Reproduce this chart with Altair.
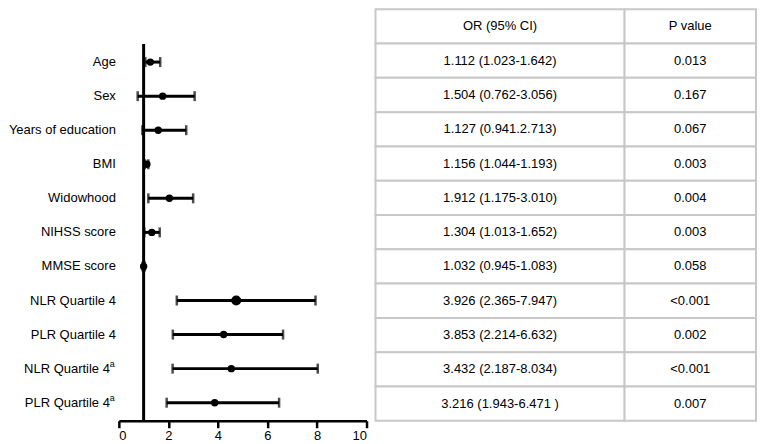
import altair as alt
import pandas as pd

# ---- data ----
labels = ["Age", "Sex", "Years of education", "BMI", "Widowhood", "NIHSS score",
          "MMSE score", "NLR Quartile 4", "PLR Quartile 4", "NLR Quartile 4", "PLR Quartile 4"]
superscript = ["", "", "", "", "", "", "", "", "", "a", "a"]
point_est = [1.27, 1.77, 1.59, 1.13, 2.04, 1.33, 1.00, 4.74, 4.23, 4.54, 3.87]
ci_low = [1.07, 0.76, 0.95, 1.05, 1.19, 1.03, 0.96, 2.34, 2.18, 2.17, 1.93]
ci_high = [1.67, 3.06, 2.72, 1.19, 3.00, 1.65, 1.05, 7.94, 6.63, 8.03, 6.47]
or_text = ["1.112 (1.023-1.642)", "1.504 (0.762-3.056)", "1.127 (0.941.2.713)",
           "1.156 (1.044-1.193)", "1.912 (1.175-3.010)", "1.304 (1.013-1.652)",
           "1.032 (0.945-1.083)", "3.926 (2.365-7.947)", "3.853 (2.214-6.632)",
           "3.432 (2.187-8.034)", "3.216 (1.943-6.471 )"]
p_text = ["0.013", "0.167", "0.067", "0.003", "0.004", "0.003", "0.058",
          "<0.001", "0.002", "<0.001", "0.007"]
header = ["OR (95% CI)", "P value"]
x_ticks = [0, 2, 4, 6, 8, 10]
ref_value = 1

FONT = "Liberation Sans"
n = len(labels)

forest = pd.DataFrame({
    "row": list(range(n)),
    "label": labels,
    "sup": superscript,
    "est": point_est,
    "lo": ci_low,
    "hi": ci_high,
})

y_top, y_bot = -1.55, 10.53
yscale = alt.Scale(domain=[y_top, y_bot], reverse=True, nice=False, zero=False)
xscale = alt.Scale(domain=[0, 10], nice=False)

base = alt.Chart(forest)

ref_line = alt.Chart(pd.DataFrame({"x": [ref_value], "y1": [-0.53], "y2": [y_bot]})).mark_rule(
    color="black", strokeWidth=3
).encode(
    x=alt.X("x:Q", scale=xscale, axis=alt.Axis(values=x_ticks, title=None, grid=False,
                                              domainColor="black", domainWidth=2.5,
                                              tickColor="black", tickWidth=2.5, tickSize=7,
                                              labelFontSize=13, labelFont=FONT,
                                              labelColor="black", labelPadding=2)),
    y=alt.Y("y1:Q", scale=yscale, axis=None),
    y2="y2:Q",
)

bars = base.mark_rule(color="black", strokeWidth=3).encode(
    x=alt.X("lo:Q", scale=xscale), x2="hi:Q",
    y=alt.Y("row:Q", scale=yscale, axis=None),
)
cap_lo = base.mark_tick(color="black", orient="vertical", size=10, thickness=2.5).encode(
    x=alt.X("lo:Q", scale=xscale), y=alt.Y("row:Q", scale=yscale, axis=None))
cap_hi = base.mark_tick(color="black", orient="vertical", size=10, thickness=2.5).encode(
    x=alt.X("hi:Q", scale=xscale), y=alt.Y("row:Q", scale=yscale, axis=None))
points = base.mark_circle(color="black", opacity=1).encode(
    x=alt.X("est:Q", scale=xscale),
    y=alt.Y("row:Q", scale=yscale, axis=None),
    size=alt.condition(alt.datum.row == 7, alt.value(100), alt.value(55)),
)

lab_plain = base.transform_filter(alt.datum.sup == "").mark_text(
    align="right", baseline="middle", dx=-3, fontSize=13, font=FONT, color="black"
).encode(x=alt.value(0), y=alt.Y("row:Q", scale=yscale, axis=None), text="label:N")
lab_sup_main = base.transform_filter(alt.datum.sup != "").mark_text(
    align="right", baseline="middle", dx=-9, fontSize=13, font=FONT, color="black"
).encode(x=alt.value(0), y=alt.Y("row:Q", scale=yscale, axis=None), text="label:N")
lab_sup = base.transform_filter(alt.datum.sup != "").mark_text(
    align="left", baseline="middle", dx=-9, dy=-5, fontSize=9, font=FONT, color="black"
).encode(x=alt.value(0), y=alt.Y("row:Q", scale=yscale, axis=None), text="sup:N")

forest_chart = alt.layer(ref_line, bars, cap_lo, cap_hi, points,
                         lab_plain, lab_sup_main, lab_sup).properties(width=248, height=412)

# ---- table ----
col_edges = [0, 0.6546, 1.0]
cells = []
for r in range(-1, n):
    texts = header if r == -1 else [or_text[r], p_text[r]]
    for c in range(2):
        cells.append({"row": r, "r0": r - 0.5, "r1": r + 0.5,
                      "c0": col_edges[c], "c1": col_edges[c + 1],
                      "cm": (col_edges[c] + col_edges[c + 1]) / 2, "txt": texts[c]})
tdf = pd.DataFrame(cells)
tx = alt.Scale(domain=[0, 1], nice=False)
ty = alt.Scale(domain=[-1.5, n - 0.5], reverse=True, nice=False, zero=False)
tbase = alt.Chart(tdf)
trect = tbase.mark_rect(fill="white", stroke="#c8c8c8", strokeWidth=2).encode(
    x=alt.X("c0:Q", scale=tx, axis=None), x2="c1:Q",
    y=alt.Y("r0:Q", scale=ty, axis=None), y2="r1:Q")
ttext = tbase.mark_text(fontSize=13, font=FONT, color="black", baseline="middle").encode(
    x=alt.X("cm:Q", scale=tx, axis=None), y=alt.Y("row:Q", scale=ty, axis=None), text="txt:N")
table_chart = alt.layer(trect, ttext).properties(width=381, height=412)

chart = alt.hconcat(forest_chart, table_chart, spacing=9, bounds="flush").properties(
    padding={"left": 0, "top": 0, "right": 0, "bottom": 0}
).configure_view(stroke=None).resolve_scale(x="independent", y="independent")

chart.save("out.html", embed_options={"renderer": "svg", "actions": False})
